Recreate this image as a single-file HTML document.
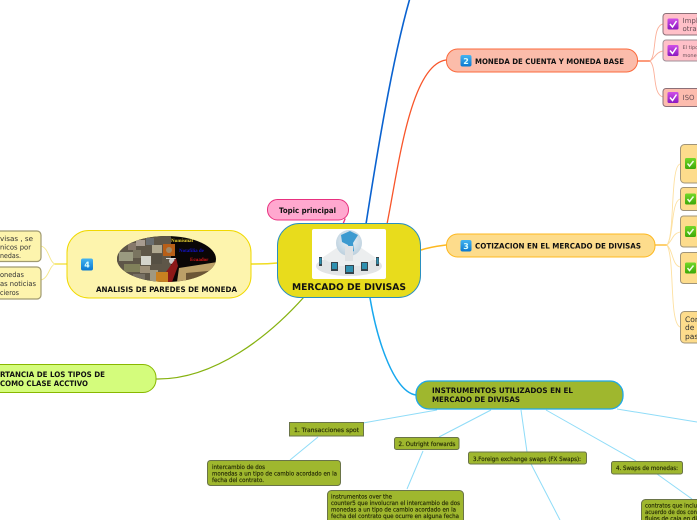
<!DOCTYPE html>
<html><head><meta charset="utf-8"><style>
html,body{margin:0;padding:0;background:#fff;width:697px;height:520px;overflow:hidden}
svg{display:block}
text{font-family:"DejaVu Sans","Liberation Sans",sans-serif;font-size:7px;fill:#333;text-rendering:geometricPrecision}
.b{font-weight:bold;fill:#111;font-size:7.5px}
.s{font-size:6px;fill:#262c06;stroke:#262c06;stroke-width:.18px}
</style></head><body>
<svg width="697" height="520" viewBox="0 0 697 520" xmlns="http://www.w3.org/2000/svg">
<defs>
<linearGradient id="bl" x1="0" y1="0" x2="0" y2="1"><stop offset="0" stop-color="#45b4f0"/><stop offset="1" stop-color="#0a78d0"/></linearGradient>
<linearGradient id="pu" x1="0" y1="0" x2="0" y2="1"><stop offset="0" stop-color="#d050e8"/><stop offset="1" stop-color="#8a18c0"/></linearGradient>
<linearGradient id="gr" x1="0" y1="0" x2="0" y2="1"><stop offset="0" stop-color="#74d82a"/><stop offset="1" stop-color="#3ca808"/></linearGradient>
<radialGradient id="gl" cx=".5" cy=".4" r=".6"><stop offset="0" stop-color="#eef4f8"/><stop offset="1" stop-color="#bcd0de"/></radialGradient>
<clipPath id="el"><ellipse cx="166.500" cy="259" rx="49.500" ry="23"/></clipPath>
</defs>

<!-- main connectors -->
<g fill="none" stroke-linecap="round">
<path d="M366 224C376 160 392 60 410 -2" stroke="#0a62d0" stroke-width="1.600"/>
<path d="M387 224C398 170 410 65 446 60" stroke="#f8552a" stroke-width="1.300"/>
<path d="M421 250C430 247 438 246 446 245" stroke="#fdb820" stroke-width="1.500"/>
<path d="M277 263C268 264 260 264 251 264" stroke="#f0dc20" stroke-width="1.500"/>
<path d="M304 297C270 335 215 380 156 379" stroke="#86b210" stroke-width="1.300"/>
<path d="M370 298C378 345 395 392 416 395" stroke="#18a8ee" stroke-width="1.500"/>
<path d="M343 224L345 219" stroke="#e8307f" stroke-width="1.300"/>
<path d="M637 61H650" stroke="#fb7a50" stroke-width="1.500"/>
<path d="M655 245H667" stroke="#fdc040" stroke-width="1.500"/>
<path d="M67 264H55" stroke="#f0dc30" stroke-width="1.300"/>
</g>
<g fill="none" stroke="#fbb09a" stroke-width=".9">
<path d="M650 61C657 55 652 26 663 24"/>
<path d="M650 61C655 58 656 52 663 51"/>
<path d="M650 61C657 68 652 94 663 97"/>
</g>
<g fill="none" stroke="#fde0a0" stroke-width=".9">
<path d="M667 245C675 235 670 167 680 164"/>
<path d="M667 245C674 235 671 202 680 199"/>
<path d="M667 245C673 240 672 234 680 232"/>
<path d="M667 245C673 250 672 265 680 267"/>
<path d="M667 245C675 260 669 322 680 327"/>
</g>
<g fill="none" stroke="#f5e88a" stroke-width=".9">
<path d="M55 264C49 262 49 248 41 246"/>
<path d="M55 264C49 266 49 278 41 280"/>
</g>
<g fill="none" stroke="#8fdcf8" stroke-width="1">
<path d="M437 410L363 423"/><path d="M491 410L439 437"/><path d="M521 410L527 452"/>
<path d="M546 410L636 461"/><path d="M617 409L697 422"/><path d="M531 464L560 520"/>
<path d="M657 474L692 499"/><path d="M318 437L290 460"/><path d="M423 451L407 489"/>
</g>

<!-- central -->
<rect x="277.500" y="223.500" width="143" height="74" rx="22" fill="#e8dc1c" stroke="#2a8fc0"/>
<rect x="312" y="229" width="74" height="50" rx="2" fill="#fff"/>
<ellipse cx="349" cy="266" rx="33" ry="10" fill="#e2e4e6"/>
<path d="M322 258L338 247H360L376 258L362 266H336Z" fill="#eceeef"/>
<circle cx="349" cy="243" r="13" fill="url(#gl)"/>
<path d="M341 235L350 231L358 235L353 243L354 251L350 253L348 245L342 242Z" fill="#3c9ad0"/>
<rect x="345" y="246" width="8" height="15" fill="#dfe2e4"/>
<g fill="#38444c"><rect x="319" y="257" width="3" height="9"/><rect x="331" y="262" width="7" height="9"/><rect x="345" y="265" width="9" height="9"/><rect x="361" y="262" width="7" height="9"/><rect x="376" y="257" width="3" height="9"/></g>
<g fill="#2f90b0"><rect x="319.500" y="258" width="2" height="6"/><rect x="332" y="263" width="5" height="6"/><rect x="346" y="266" width="7" height="6"/><rect x="362" y="263" width="5" height="6"/><rect x="376.500" y="258" width="2" height="6"/></g>
<text class="b" x="292" y="290" style="font-size:9.200px" textLength="114" lengthAdjust="spacingAndGlyphs">MERCADO DE DIVISAS</text>

<!-- topic -->
<rect x="267.500" y="199.500" width="81" height="20.500" rx="10" fill="#ffa8cf" stroke="#e8307f"/>
<text class="b" x="279" y="213" textLength="57" lengthAdjust="spacingAndGlyphs">Topic principal</text>

<!-- left node -->
<rect x="67" y="230.500" width="184" height="67.500" rx="22" fill="#fdf4ad" stroke="#f0d800"/>
<rect x="81" y="258.500" width="12" height="12" rx="2" fill="url(#bl)"/>
<text x="87" y="267.500" text-anchor="middle" style="font-size:8px;font-weight:bold;fill:#dff">4</text>
<ellipse cx="166.500" cy="259" rx="49.500" ry="23" fill="#0a0606"/>
<g clip-path="url(#el)">
<rect x="117" y="236" width="54" height="46" fill="#5e5648"/>
<rect x="119" y="252" width="14" height="9" fill="#9a9a80"/><rect x="136" y="240" width="9" height="6" fill="#a89c90"/>
<rect x="146" y="238" width="8" height="7" fill="#6a6e70"/><rect x="128" y="243" width="8" height="7" fill="#86786a"/>
<rect x="133" y="250" width="8" height="8" fill="#7a7460"/><rect x="141" y="256" width="10" height="9" fill="#d4d4cc"/>
<rect x="124" y="264" width="16" height="8" fill="#80805a"/><rect x="140" y="266" width="10" height="7" fill="#9c8f78"/>
<rect x="150" y="270" width="8" height="12" fill="#a09880"/><rect x="152" y="245" width="10" height="8" fill="#b0a890"/>
<rect x="152" y="254" width="10" height="10" fill="#565044"/><rect x="133" y="274" width="12" height="6" fill="#777064"/>
<rect x="163" y="244" width="12" height="12" fill="#b85f18"/><circle cx="169" cy="250" r="3" fill="#a08868"/>
<circle cx="172" cy="261" r="3" fill="#ccc"/>
<rect x="166" y="258" width="10" height="1" fill="#ddd"/>
<path d="M166 272L176 258L178 266L172 282H166Z" fill="#8c1818"/>
<rect x="156" y="272" width="12" height="10" fill="#c88020"/>
<path d="M179 268L218 262V282H177Z" fill="#bca068"/>
<path d="M186 273L218 270V282H186Z" fill="#6c5636"/>
</g>
<text x="171" y="242" style="font:bold 5px 'Liberation Serif',serif;fill:#e8d030">Numismat</text>
<text x="179" y="252" style="font:bold 5px 'Liberation Serif',serif;fill:#1414d0">Notafilia de</text>
<text x="190" y="261" style="font:bold 5px 'Liberation Serif',serif;fill:#e01818">Ecuador</text>
<text class="b" x="96" y="292" textLength="141" lengthAdjust="spacingAndGlyphs">ANALISIS DE PAREDES DE MONEDA</text>

<!-- left children -->
<rect x="-12" y="231" width="53" height="30.500" rx="4" fill="#fdf4ad" stroke="#a09a70" stroke-width="1.200"/>
<rect x="-12" y="267" width="53" height="32" rx="4" fill="#fdf4ad" stroke="#a09a70" stroke-width="1.200"/>
<text x="0" y="241" textLength="33" lengthAdjust="spacingAndGlyphs">visas , se</text>
<text x="0" y="249.500" textLength="31" lengthAdjust="spacingAndGlyphs">nicos por</text>
<text x="0" y="258" textLength="21" lengthAdjust="spacingAndGlyphs">nedas.</text>
<text x="0" y="277" textLength="24" lengthAdjust="spacingAndGlyphs" style="font-size:7px">onedas</text>
<text x="0" y="286" textLength="36" lengthAdjust="spacingAndGlyphs">as noticias</text>
<text x="0" y="295" textLength="19" lengthAdjust="spacingAndGlyphs">cieros</text>

<!-- green node -->
<rect x="-25" y="364.500" width="181" height="28" rx="13" fill="#d4fc7c" stroke="#88b800"/>
<text class="b" x="0" y="377" textLength="105" lengthAdjust="spacingAndGlyphs">RTANCIA DE LOS TIPOS DE</text>
<text class="b" x="0" y="386" textLength="88" lengthAdjust="spacingAndGlyphs">COMO CLASE ACCTIVO</text>

<!-- node 2 -->
<rect x="446.500" y="49" width="191" height="23" rx="11" fill="#fbbcaa" stroke="#fb6a3c"/>
<rect x="460.500" y="55" width="11" height="11.500" rx="2" fill="url(#bl)"/>
<text x="466" y="64" text-anchor="middle" style="font-size:8px;font-weight:bold;fill:#dff">2</text>
<text class="b" x="475" y="64" textLength="149" lengthAdjust="spacingAndGlyphs">MONEDA DE CUENTA Y MONEDA BASE</text>
<rect x="663" y="13.500" width="50" height="21.500" rx="3" fill="#ffc0c8" stroke="#8c7078"/>
<rect x="663" y="40" width="50" height="21" rx="3" fill="#ffc0c8" stroke="#a09098"/>
<rect x="663" y="88.500" width="50" height="18" rx="3" fill="#fcbcae" stroke="#8c7078"/>
<g fill="url(#pu)"><rect x="667.500" y="18.500" width="11" height="11" rx="1.500"/><rect x="667.500" y="45" width="11" height="11" rx="1.500"/><rect x="667.500" y="92" width="11" height="11" rx="1.500"/></g>
<g fill="none" stroke="#fff" stroke-width="1.500"><path d="M670 24l2.500 3l4-6"/><path d="M670 50.500l2.500 3l4-6"/><path d="M670 97.500l2.500 3l4-6"/></g>
<text x="682.500" y="23" style="fill:#6a5058">Impli</text>
<text x="682.500" y="31" style="fill:#6a5058">otra</text>
<text x="682.500" y="49" style="font-size:5px;fill:#6a5058">El tipo</text>
<text x="682.500" y="57" style="font-size:5px;fill:#6a5058">mone</text>
<text x="682.500" y="100" style="fill:#6a5058">ISO</text>

<!-- node 3 -->
<rect x="446.500" y="234" width="208.500" height="23" rx="11" fill="#fddc8c" stroke="#fdb820"/>
<rect x="460.500" y="240" width="11" height="11.500" rx="2" fill="url(#bl)"/>
<text x="466" y="249" text-anchor="middle" style="font-size:8px;font-weight:bold;fill:#dff">3</text>
<text class="b" x="475" y="248.500" textLength="166" lengthAdjust="spacingAndGlyphs">COTIZACION EN EL MERCADO DE DIVISAS</text>
<g fill="#fddc8c" stroke="#a09478">
<rect x="680.500" y="144.500" width="40" height="38.500" rx="4"/>
<rect x="680.500" y="187.500" width="40" height="23" rx="3"/>
<rect x="680.500" y="216" width="40" height="31" rx="3"/>
<rect x="680.500" y="252.500" width="40" height="31" rx="3"/>
<rect x="680.500" y="311.500" width="40" height="31.500" rx="4"/>
</g>
<g fill="url(#gr)"><rect x="685" y="158" width="11" height="11" rx="1.500"/><rect x="685" y="193.500" width="11" height="11" rx="1.500"/><rect x="685" y="226" width="11" height="11" rx="1.500"/><rect x="685" y="262.500" width="11" height="11" rx="1.500"/></g>
<g fill="none" stroke="#eefce0" stroke-width="1.500"><path d="M687.500 163.500l2 2.500l4-5"/><path d="M687.500 199l2 2.500l4-5"/><path d="M687.500 231.500l2 2.500l4-5"/><path d="M687.500 268l2 2.500l4-5"/></g>
<text x="685" y="322" style="font-size:7.500px">Con</text>
<text x="685" y="330" style="font-size:7.500px">de c</text>
<text x="685" y="339" style="font-size:7.500px">pas</text>

<!-- instruments -->
<rect x="416" y="381" width="207" height="28" rx="13" fill="#9fb72e" stroke="#1ea8e8" stroke-width="1.300"/>
<text class="b" x="432" y="393" textLength="141" lengthAdjust="spacingAndGlyphs">INSTRUMENTOS UTILIZADOS EN EL</text>
<text class="b" x="432" y="402" textLength="88" lengthAdjust="spacingAndGlyphs">MERCADO DE DIVISAS</text>
<g fill="#9fb72e" stroke="#6a7448">
<rect x="289.500" y="422.500" width="74" height="13.500"/>
<rect x="207.500" y="460.500" width="133" height="25" rx="3"/>
<rect x="394.500" y="437.500" width="64.500" height="12" rx="2"/>
<rect x="327.500" y="490.500" width="136" height="40" rx="4"/>
<rect x="468.500" y="452" width="118" height="12" rx="2"/>
<rect x="611.500" y="461.500" width="71" height="12.500" rx="2"/>
<rect x="641.500" y="499.500" width="70" height="30" rx="4"/>
</g>
<text class="s" x="294" y="432" textLength="65" lengthAdjust="spacingAndGlyphs">1. Transacciones spot</text>
<text class="s" x="398.500" y="446" textLength="57" lengthAdjust="spacingAndGlyphs">2. Outright forwards</text>
<text class="s" x="473" y="461" textLength="108" lengthAdjust="spacingAndGlyphs">3.Foreign exchange swaps (FX Swaps):</text>
<text class="s" x="616" y="470" textLength="62" lengthAdjust="spacingAndGlyphs">4. Swaps de monedas:</text>
<text class="s" x="212" y="469" textLength="53" lengthAdjust="spacingAndGlyphs">intercambio de dos</text>
<text class="s" x="212" y="475.500" textLength="125" lengthAdjust="spacingAndGlyphs">monedas a un tipo de cambio acordado en la</text>
<text class="s" x="212" y="482" textLength="52" lengthAdjust="spacingAndGlyphs">fecha del contrato.</text>
<text class="s" x="331" y="498.500" textLength="61" lengthAdjust="spacingAndGlyphs">instrumentos over the</text>
<text class="s" x="331" y="505" textLength="129" lengthAdjust="spacingAndGlyphs">counter5 que involucran el intercambio de dos</text>
<text class="s" x="331" y="511.500" textLength="125" lengthAdjust="spacingAndGlyphs">monedas a un tipo de cambio acordado en la</text>
<text class="s" x="331" y="518" textLength="128" lengthAdjust="spacingAndGlyphs">fecha del contrato que ocurre en alguna fecha</text>
<text class="s" x="645" y="507.500" textLength="52" lengthAdjust="spacingAndGlyphs">contratos que inclu</text>
<text class="s" x="645" y="514" textLength="52" lengthAdjust="spacingAndGlyphs">acuerdo de dos con</text>
<text class="s" x="645" y="520.500" textLength="52" lengthAdjust="spacingAndGlyphs">flujos de caja en di</text>
</svg>
</body></html>
